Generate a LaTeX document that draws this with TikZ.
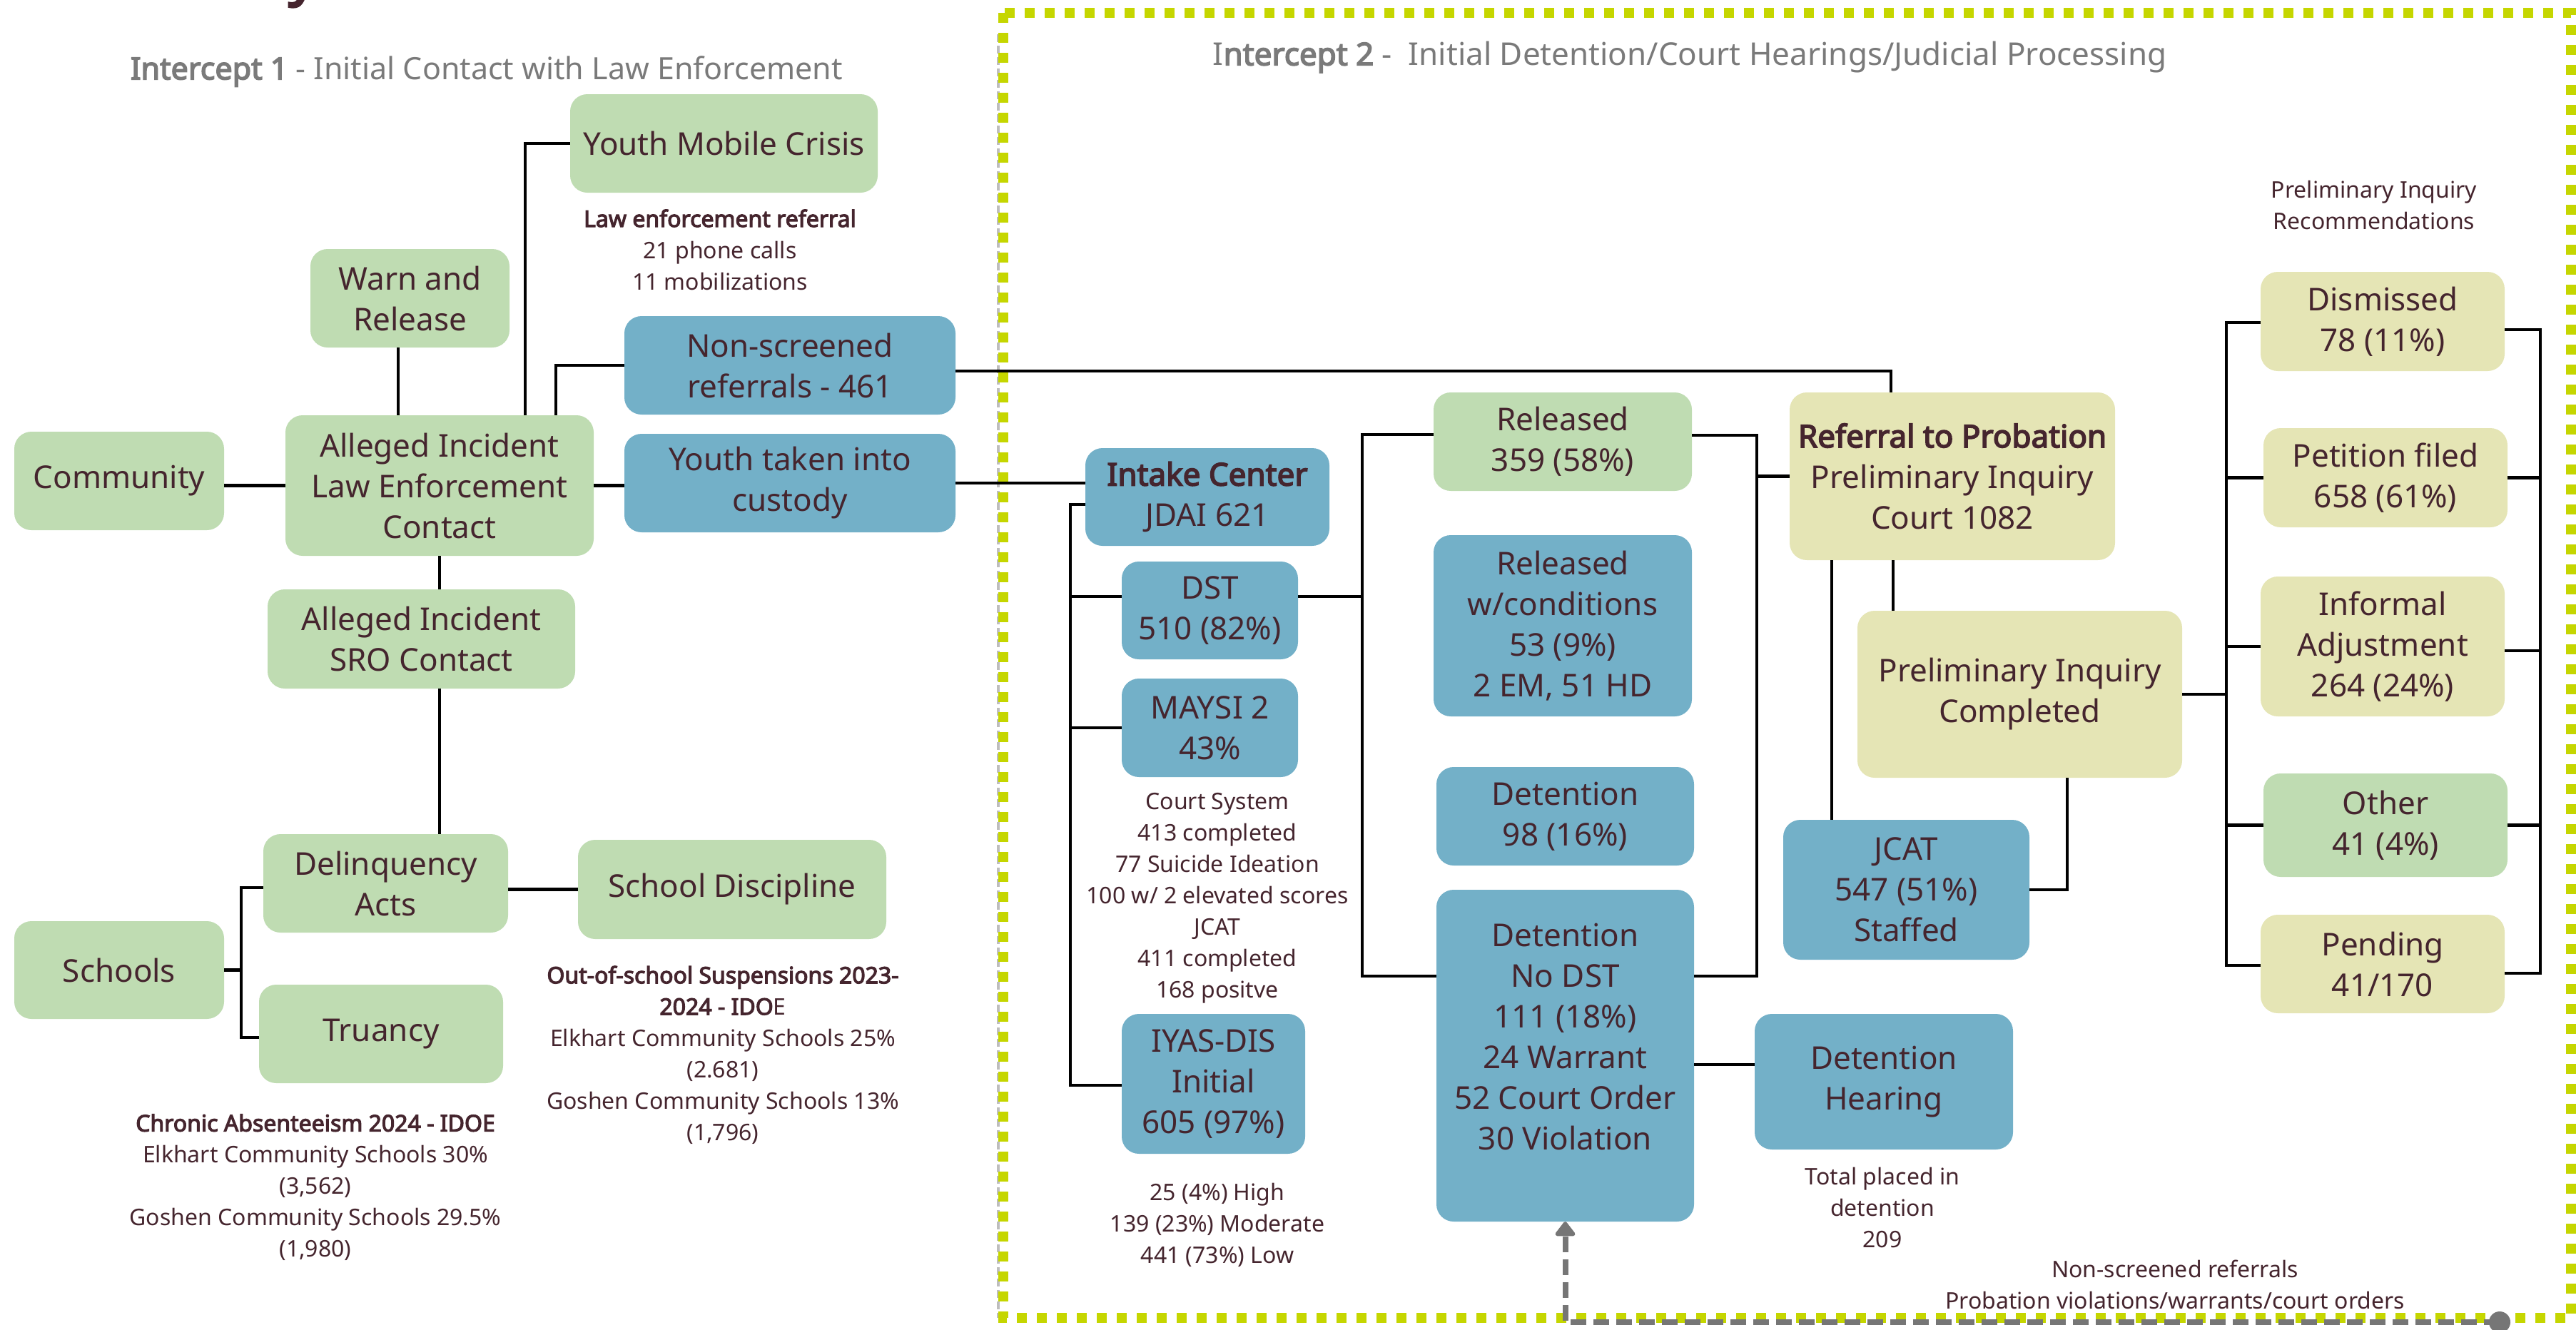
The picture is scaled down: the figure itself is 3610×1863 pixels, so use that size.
\documentclass[tikz,border=0pt]{standalone}
\usepackage{fontspec}
\setmainfont{Noto Sans}[BoldFont={Noto Sans}, BoldFeatures={FakeBold=3.6}]
\usetikzlibrary{arrows.meta}
\definecolor{ink}{HTML}{45252E}
\definecolor{cgreen}{HTML}{BFDCB2}
\definecolor{cblue}{HTML}{73B0C8}
\definecolor{cyellow}{HTML}{E5E5B5}
\definecolor{cframe}{HTML}{C5D600}
\definecolor{cgray}{HTML}{7A7A7A}
\definecolor{cloop}{HTML}{767676}
\definecolor{cfaint}{HTML}{BEBEBE}
\begin{document}
\begin{tikzpicture}[x=1pt,y=-1pt,
  every node/.style={text=ink},
  card/.style={rounded corners=24pt, inner sep=0pt, align=center,
    font=\fontsize{44}{57}\selectfont},
  gcard/.style={card, fill=cgreen},
  bcard/.style={card, fill=cblue},
  ycard/.style={card, fill=cyellow},
  cardtext/.style={inner sep=0pt, align=center, font=\fontsize{44}{57}\selectfont},
  note/.style={align=center, inner sep=0pt, font=\fontsize{32}{44}\selectfont},
  hdr/.style={inner sep=0pt, text=cgray},
  wire/.style={line width=4.5pt, black},
  frame/.style={line width=14pt, cframe, dash pattern=on 14pt off 14pt},
  loop/.style={line width=8pt, cloop, dash pattern=on 22pt off 10pt}]

\useasboundingbox (0,0) rectangle (3610,1863);

% title descender peeking in at the top edge
\node[inner sep=0pt, anchor=base west, font=\fontsize{80}{80}\selectfont\bfseries] (titlefrag) at (404,-9) {y};

% ---------- Intercept 2 frame ----------
\draw[line width=4pt, cfaint, dash pattern=on 11pt off 5pt] (1399,48) -- (1399,1847);
\draw[frame] (1406,18) rectangle (3603,1847);

% ---------- headers ----------
\node[hdr, font=\fontsize{43}{50}\selectfont] (hdrone) at (682,100)
  {\textbf{Intercept 1} - Initial Contact with Law Enforcement};
\node[hdr, font=\fontsize{44}{52}\selectfont] (hdrtwo) at (2368,80)
  {I\textbf{ntercept 2} -\ \ Initial Detention/Court Hearings/Judicial Processing};

% ---------- Intercept 1 cards ----------
\node[gcard, minimum width=431pt, minimum height=138pt] (ymc) at (1014.5,201) {Youth Mobile Crisis};
\node[gcard, minimum width=279pt, minimum height=138pt] (warn) at (574.5,418) {Warn and\\Release};
\node[bcard, minimum width=464pt, minimum height=138pt] (nonscr) at (1107,512) {Non-screened\\referrals - 461};
\node[bcard, minimum width=464pt, minimum height=138pt] (custody) at (1107,677) {Youth taken into\\custody};
\node[gcard, minimum width=294pt, minimum height=138pt] (community) at (167,674) {Community};
\node[gcard, minimum width=432pt, minimum height=197pt] (le) at (616,680.5) {Alleged Incident\\Law Enforcement\\Contact};
\node[gcard, minimum width=431pt, minimum height=139pt] (sro) at (590.5,895.5) {Alleged Incident\\SRO Contact};
\node[gcard, minimum width=343pt, minimum height=138pt] (delinq) at (540.5,1238) {Delinquency\\Acts};
\node[gcard, minimum width=432pt, minimum height=139pt] (discipline) at (1026,1246.5) {School Discipline};
\node[gcard, minimum width=294pt, minimum height=137pt] (schools) at (167,1359.5) {Schools};
\node[gcard, minimum width=342pt, minimum height=138pt] (truancy) at (534,1449) {Truancy};

% ---------- Intercept 1 notes ----------
\node[note] (lawref) at (1009,350) {\textbf{Law enforcement referral}\\21 phone calls\\11 mobilizations};
\node[note] (suspend) at (1013,1478.5) {\textbf{Out-of-school Suspensions 2023-}\\\textbf{2024 - IDO}E\\Elkhart Community Schools 25\%\\(2.681)\\Goshen Community Schools 13\%\\(1,796)};
\node[note] (absent) at (442,1664) {\textbf{Chronic Absenteeism 2024 - IDOE}\\Elkhart Community Schools 30\%\\(3,562)\\Goshen Community Schools 29.5\%\\(1,980)};

% ---------- Intercept 2 cards ----------
\node[bcard, minimum width=342pt, minimum height=137pt] (intake) at (1692,696.5) {\textbf{Intake Center}\\JDAI 621};
\node[bcard, minimum width=247pt, minimum height=137pt] (dst) at (1695.5,855.5) {DST\\510 (82\%)};
\node[bcard, minimum width=247pt, minimum height=138pt] (maysi) at (1695.5,1020) {MAYSI 2\\43\%};
\node[bcard, minimum width=257pt, minimum height=196pt] (iyas) at (1700.5,1519) {IYAS-DIS\\Initial\\605 (97\%)};
\node[gcard, minimum width=362pt, minimum height=138pt] (rel) at (2190,619) {Released\\359 (58\%)};
\node[bcard, minimum width=362pt, minimum height=254pt] (relc) at (2190,877) {Released\\w/conditions\\53 (9\%)\\2 EM, 51 HD};
\node[bcard, minimum width=361pt, minimum height=138pt] (det) at (2193.5,1144) {Detention\\98 (16\%)};
\node[bcard, minimum width=361pt, minimum height=465pt] (detno) at (2193.5,1479.5) {};
\node[cardtext] (detnotext) at (2193.5,1453) {Detention\\No DST\\111 (18\%)\\24 Warrant\\52 Court Order\\30 Violation};
\node[bcard, minimum width=362pt, minimum height=190pt] (hearing) at (2640,1516) {Detention\\Hearing};
\node[ycard, minimum width=456pt, minimum height=235pt] (referral) at (2736,667.5) {\textbf{Referral to Probation}\\Preliminary Inquiry\\Court 1082};
\node[ycard, minimum width=455pt, minimum height=234pt] (picomp) at (2830.5,973) {Preliminary Inquiry\\Completed};
\node[bcard, minimum width=345pt, minimum height=196pt] (jcat) at (2671.5,1247) {JCAT\\547 (51\%)\\Staffed};
\node[ycard, minimum width=342pt, minimum height=139pt] (dismissed) at (3339,450.5) {Dismissed\\78 (11\%)};
\node[ycard, minimum width=342pt, minimum height=139pt] (petition) at (3343,669.5) {Petition filed\\658 (61\%)};
\node[ycard, minimum width=342pt, minimum height=196pt] (informal) at (3339,906) {Informal\\Adjustment\\264 (24\%)};
\node[gcard, minimum width=342pt, minimum height=145pt] (other) at (3343,1156.5) {Other\\41 (4\%)};
\node[ycard, minimum width=342pt, minimum height=138pt] (pending) at (3339,1351) {Pending\\41/170};

% ---------- Intercept 2 notes ----------
\node[note] (courtsys) at (1706,1258.5) {Court System\\413 completed\\77 Suicide Ideation\\100 w/ 2 elevated scores\\JCAT\\411 completed\\168 positve};
\node[note] (risk) at (1706,1717) {25 (4\%) High\\139 (23\%) Moderate\\441 (73\%) Low};
\node[note] (placed) at (2638,1692) {Total placed in\\detention\\209};
\node[note] (recs) at (3327,287) {Preliminary Inquiry\\Recommendations};
\node[note] (loopnote) at (3048,1800) {Non-screened referrals\\Probation violations/warrants/court orders};

% ---------- bracket corners ----------
\coordinate (sbtop) at (338,1244);
\coordinate (sbbot) at (338,1454);
\coordinate (ibt) at (1500,707);
\coordinate (ibb) at (1500,1521);
\coordinate (rbt) at (1909,609);
\coordinate (rbb) at (1909,1368);
\coordinate (pbt) at (2462,610);
\coordinate (pbb) at (2462,1368);
\coordinate (lbt) at (3120,452);
\coordinate (lbb) at (3120,1353);
\coordinate (fbt) at (3560,462);
\coordinate (fbb) at (3560,1364);
\coordinate (loopend) at (3503,1853);

% ---------- Intercept 1 connectors ----------
\draw[wire] (le.west) -- (le.west -| community.east);
\draw[wire] (le.east) -- (le.east -| custody.west);
\draw[wire] ([xshift=-58pt]le.north) -- ([xshift=-58pt]le.north |- warn.south);
\draw[wire] ([xshift=120pt]le.north) |- (ymc.west);
\draw[wire] ([xshift=163pt]le.north) |- (nonscr.west);
\draw[wire] (le.south) -- (le.south |- sro.north);
\draw[wire] (le.south |- sro.south) -- (le.south |- delinq.north);
\draw[wire] (discipline.west) -- (discipline.west -| delinq.east);
\draw[wire] (schools.east) -- (schools.east -| sbtop);
\draw[wire] (delinq.west |- sbtop) -- (sbtop) -- (sbbot) -- (truancy.west |- sbbot);

% ---------- crossing into Intercept 2 ----------
\draw[wire] ([yshift=-8pt]nonscr.east) -| ([xshift=-86pt]referral.north);
\draw[wire] (custody.east) -- (custody.east -| intake.west);

% ---------- Intercept 2 connectors ----------
\draw[wire] (intake.west |- ibt) -- (ibt) -- (ibb) -- (iyas.west |- ibb);
\draw[wire] ([yshift=19.5pt]dst.west) -- ([yshift=19.5pt]dst.west -| ibt);
\draw[wire] (maysi.west) -- (maysi.west -| ibt);
\draw[wire] ([yshift=19.5pt]dst.east) -- ([yshift=19.5pt]dst.east -| rbt);
\draw[wire] (rel.west |- rbt) -- (rbt) -- (rbb) -- (detno.west |- rbb);
\draw[wire] (rel.east |- pbt) -- (pbt) -- (pbb) -- (detno.east |- pbb);
\draw[wire] (referral.west) -- (referral.west -| pbt);
\draw[wire] ([yshift=24pt]hearing.west) -- ([yshift=24pt]hearing.west -| detno.east);
\draw[wire] ([xshift=-169pt]referral.south) -- ([xshift=-169pt]referral.south |- jcat.north);
\draw[wire] ([xshift=-83pt]referral.south) -- ([xshift=-83pt]referral.south |- picomp.north);
\draw[wire] ([xshift=66.5pt]picomp.south) |- (jcat.east);
\draw[wire] (picomp.east) -- (picomp.east -| lbt);
\draw[wire] (dismissed.west |- lbt) -- (lbt) -- (lbb) -- (pending.west |- lbb);
\draw[wire] (petition.west) -- (petition.west -| lbt);
\draw[wire] (informal.west) -- (informal.west -| lbt);
\draw[wire] (other.west) -- (other.west -| lbt);
\draw[wire] (dismissed.east |- fbt) -- (fbt) -- (fbb) -- (pending.east |- fbb);
\draw[wire] (petition.east) -- (petition.east -| fbt);
\draw[wire] ([yshift=-6pt]informal.east) -- ([yshift=-6pt]informal.east -| fbt);
\draw[wire] (other.east) -- (other.east -| fbt);

% ---------- return loop along the bottom ----------
\draw[loop, -{Triangle[width=32pt, length=22pt, round]}]
  (loopend) -- (loopend -| detno.south) -- (detno.south);
\fill[cloop] (loopend) circle (15pt);

\end{tikzpicture}
\end{document}
